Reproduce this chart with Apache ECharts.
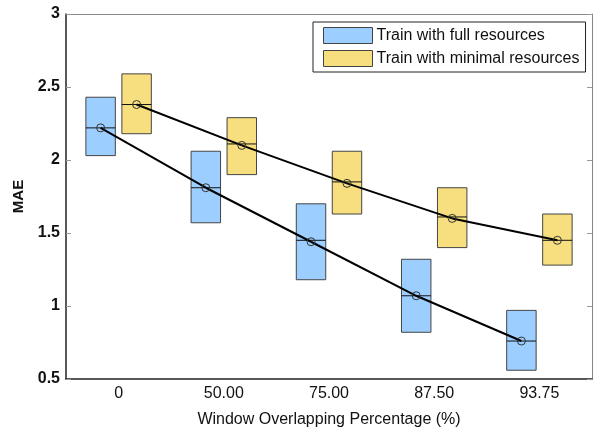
<!DOCTYPE html>
<html>
<head>
<meta charset="utf-8">
<script src="https://cdn.jsdelivr.net/npm/echarts@6/dist/echarts.min.js"></script>
<style>html,body{margin:0;padding:0;background:#fff;}#c{width:593px;height:430px;}</style>
</head>
<body>
<div id="c"></div>
<script>
var categories = ['0', '50.00', '75.00', '87.50', '93.75'];
var seriesNames = ['Train with full resources', 'Train with minimal resources'];
// full resources
var fullQ1 = [2.03, 1.57, 1.18, 0.82, 0.56];
var fullMedian = [2.22, 1.81, 1.45, 1.07, 0.76];
var fullQ3 = [2.43, 2.06, 1.70, 1.32, 0.97];
var fullMean = [2.22, 1.81, 1.44, 1.07, 0.76];
// minimal resources
var minQ1 = [2.18, 1.90, 1.63, 1.40, 1.28];
var minMedian = [2.38, 2.11, 1.85, 1.61, 1.45];
var minQ3 = [2.59, 2.29, 2.06, 1.81, 1.63];
var minMean = [2.38, 2.10, 1.84, 1.60, 1.45];
var yTicks = [0.5, 1, 1.5, 2, 2.5, 3];

var FONT = 'Liberation Sans, Arial, sans-serif';
var colors = ['#9ccfff', '#f7df80'];
var OFFSET = 0.171, BOXW = 0.28;

function buildData(q1, med, q3, mean) {
  return categories.map(function (c, i) { return [i, q1[i], med[i], q3[i], mean[i]]; });
}
function boxSeries(name, idx, q1, med, q3, mean) {
  var sign = idx === 0 ? -1 : 1;
  return {
    type: 'custom', name: name, z: 2,
    itemStyle: { color: colors[idx], borderColor: '#444', borderWidth: 1 },
    encode: { x: 0, y: [1, 2, 3] },
    data: buildData(q1, med, q3, mean),
    renderItem: function (params, api) {
      var i = api.value(0);
      var bw = api.size([1, 0])[0];
      var off = sign * OFFSET * bw, w = BOXW * bw;
      var pLo = api.coord([i, api.value(1)]);
      var pMed = api.coord([i, api.value(2)]);
      var pHi = api.coord([i, api.value(3)]);
      var cx = pLo[0] + off;
      return {
        type: 'group', children: [
          { type: 'rect', shape: { x: cx - w / 2, y: pHi[1], width: w, height: pLo[1] - pHi[1] },
            style: { fill: colors[idx], stroke: '#444', lineWidth: 1 } },
          { type: 'line', shape: { x1: cx - w / 2, y1: pMed[1], x2: cx + w / 2, y2: pMed[1] },
            style: { stroke: '#111', lineWidth: 1 } }
        ]
      };
    }
  };
}
function meanSeries(name, idx, mean) {
  var sign = idx === 0 ? -1 : 1;
  return {
    type: 'custom', name: name, z: 5,
    encode: { x: 0, y: 1 },
    data: categories.map(function (c, i) { return [i, mean[i]]; }),
    renderItem: function (params, api) {
      var i = api.value(0);
      var bw = api.size([1, 0])[0];
      var off = sign * OFFSET * bw;
      var p = api.coord([i, api.value(1)]);
      var children = [];
      if (i < mean.length - 1) {
        var q = api.coord([i + 1, mean[i + 1]]);
        children.push({ type: 'line', shape: { x1: p[0] + off, y1: p[1], x2: q[0] + off, y2: q[1] },
          style: { stroke: '#000', lineWidth: 2 } });
      }
      children.push({ type: 'circle', shape: { cx: p[0] + off, cy: p[1], r: 4 },
        style: { fill: 'none', stroke: '#333', lineWidth: 1 } });
      return { type: 'group', children: children };
    }
  };
}

var chart = echarts.init(document.getElementById('c'));
chart.setOption({
  animation: false,
  backgroundColor: '#fff',
  grid: { left: 66, top: 14, right: 1, bottom: 51, containLabel: false, outerBoundsMode: 'none' },
  legend: {
    data: seriesNames,
    orient: 'vertical', left: 313, top: 22,
    padding: [5, 6, 5, 10], itemGap: 6,
    itemWidth: 49, itemHeight: 16, icon: 'rect',
    borderColor: '#222', borderWidth: 1, backgroundColor: '#fff',
    itemStyle: { borderColor: '#444', borderWidth: 1 },
    textStyle: { fontFamily: FONT, fontSize: 16, color: '#111', padding: [0, 0, 0, -1] }
  },
  xAxis: [{
    type: 'category', data: categories, position: 'bottom',
    axisLine: { lineStyle: { color: '#222', width: 1.5 } },
    axisTick: { inside: true, alignWithLabel: true, length: 5, lineStyle: { color: '#999' } },
    axisLabel: { fontFamily: FONT, fontSize: 16, color: '#111', margin: 7 },
    name: 'Window Overlapping Percentage (%)', nameLocation: 'middle', nameGap: 33,
    nameTextStyle: { fontFamily: FONT, fontSize: 16, color: '#111' },
    splitLine: { show: false }
  }, {
    type: 'category', data: categories, position: 'top',
    axisLine: { lineStyle: { color: '#888', width: 1 } },
    axisTick: { inside: true, alignWithLabel: true, length: 5, lineStyle: { color: '#999' } },
    axisLabel: { show: false }
  }],
  yAxis: [{
    type: 'value', min: 0.5, max: 3, interval: 0.5, position: 'left',
    axisLine: { show: true, lineStyle: { color: '#222', width: 1.5 } },
    axisTick: { show: true, inside: true, length: 5, lineStyle: { color: '#999' } },
    axisLabel: { fontFamily: FONT, fontSize: 16, fontWeight: 'bold', color: '#111', margin: 6,
      formatter: function (v) { return yTicks.indexOf(v) >= 0 ? String(v) : ''; } },
    splitLine: { show: false },
    name: 'MAE', nameLocation: 'middle', nameGap: 35,
    nameTextStyle: { fontFamily: FONT, fontSize: 15, fontWeight: 'bold', color: '#111' }
  }, {
    type: 'value', min: 0.5, max: 3, interval: 0.5, position: 'right',
    axisLine: { show: true, lineStyle: { color: '#888', width: 1 } },
    axisTick: { show: true, inside: true, length: 5, lineStyle: { color: '#999' } },
    axisLabel: { show: false }, splitLine: { show: false }
  }],
  series: [
    boxSeries(seriesNames[0], 0, fullQ1, fullMedian, fullQ3, fullMean),
    boxSeries(seriesNames[1], 1, minQ1, minMedian, minQ3, minMean),
    meanSeries('full mean', 0, fullMean),
    meanSeries('minimal mean', 1, minMean)
  ]
});
</script>
</body>
</html>
